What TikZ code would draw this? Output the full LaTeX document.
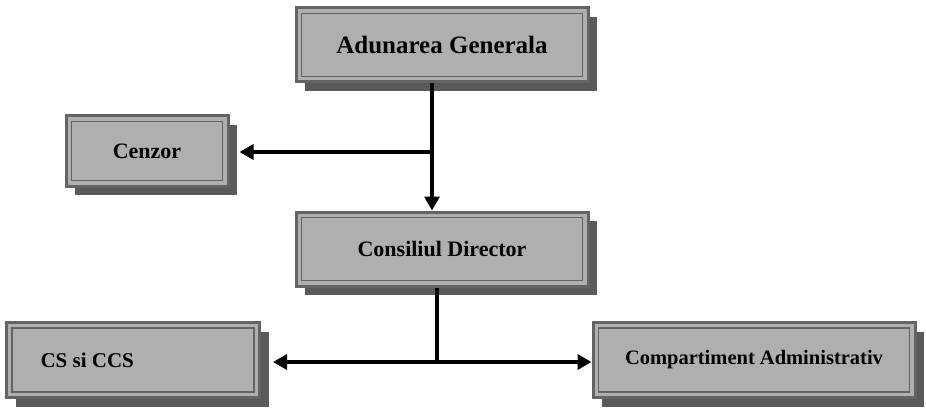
\documentclass[tikz,border=0pt]{standalone}
\usepackage{fontspec}
\setmainfont{Liberation Serif}
\usetikzlibrary{arrows.meta,shadows,calc}
\definecolor{boxfill}{RGB}{175,175,175}
\definecolor{boxedge}{RGB}{100,100,100}
\definecolor{shadowc}{RGB}{90,90,90}
\begin{document}
\begin{tikzpicture}[x=1pt,y=-1pt,
  orgbox/.style={draw=boxedge, line width=3pt, fill=boxfill, inner sep=0pt,
    font=\bfseries\fontsize{22}{26}\selectfont,
    drop shadow={shadow xshift=9pt, shadow yshift=-9pt, fill=shadowc, opacity=1}},
  innerline/.style={draw=boxedge, line width=1.5pt},
  conn/.style={line width=4.5pt, -{Triangle[length=14pt,width=15pt]}},
  plain/.style={line width=4.5pt}]
\useasboundingbox (0,0) rectangle (926,409);
\node[orgbox, minimum width=292pt, minimum height=74pt, font=\bfseries\fontsize{25}{28}\selectfont] (ag) at (442,45) {Adunarea Generala};
\node[orgbox, minimum width=162pt, minimum height=70pt] (cz) at (147,151) {Cenzor};
\node[orgbox, minimum width=292pt, minimum height=74pt] (cd) at (442,249) {Consiliul Director};
\node[orgbox, minimum width=253pt, minimum height=75pt] (cs) at (133,360) {};
\node[anchor=west, font=\bfseries\fontsize{21}{25}\selectfont] (cst) at (37,360) {CS si CCS};
\node[orgbox, minimum width=322pt, minimum height=75pt, font=\bfseries\fontsize{20.5}{24}\selectfont] (ca) at (754,360) {Compartiment Administrativ};
\foreach \n in {ag,cz,cd,cs,ca}
  \draw[innerline] ($(\n.north west)+(7,7)$) rectangle ($(\n.south east)+(-7,-7)$);
\coordinate (j1) at (432,152);
\coordinate (j2) at (437,362);
\draw[conn] (ag.south -| j1) -- (cd.north -| j1);
\draw[conn] (j1) -- ($(cz.east|-j1)+(10,0)$);
\draw[plain] (cd.south -| j2) -- (j2);
\draw[conn] (j2) -- ($(cs.east|-j2)+(12,0)$);
\draw[conn] (j2) -- (ca.west|-j2);
\end{tikzpicture}
\end{document}
